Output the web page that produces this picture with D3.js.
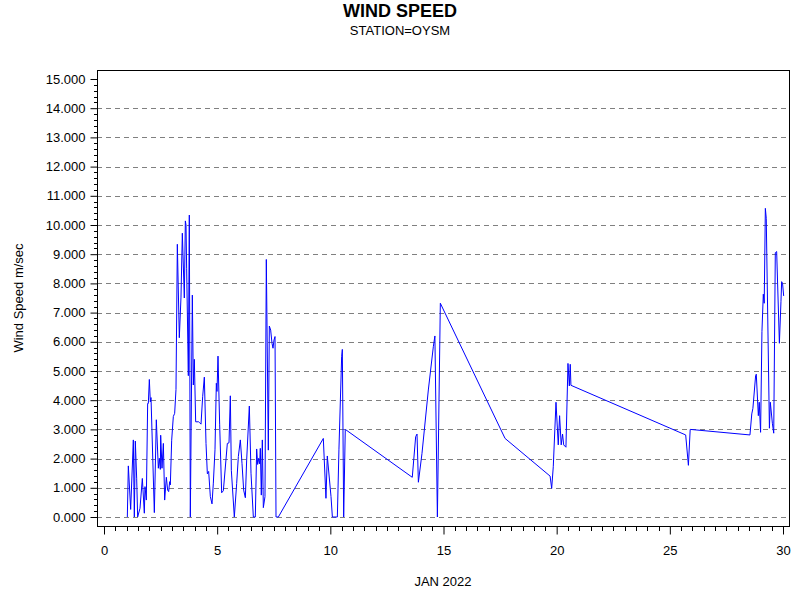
<!DOCTYPE html>
<html>
<head>
<meta charset="utf-8">
<script src="https://cdn.jsdelivr.net/npm/d3@7"></script>
<style>
  body { margin: 0; background: #fff; }
  svg { display: block; }
  text { font-family: "Liberation Sans", Arial, sans-serif; }
</style>
</head>
<body>
<svg id="chart" width="800" height="600"></svg>
<script>
// ---- data (day of JAN 2022, wind speed m/sec) ----
const dayValues = [
  1.031,1.075,1.178,1.296,1.340,1.384,1.443,1.487,1.591,1.694,1.782,1.811,1.870,1.929,1.959,2.003,2.047,2.077,
  2.224,2.312,2.401,2.445,2.489,2.504,2.563,2.622,2.680,2.754,2.813,2.857,2.901,2.931,2.990,3.063,3.122,3.181,
  3.240,3.328,3.402,3.461,3.549,3.594,3.623,3.652,3.726,3.770,3.814,3.903,3.947,3.991,4.050,4.183,4.227,4.286,
  4.359,4.433,4.507,4.566,4.624,4.698,4.772,4.831,4.904,4.963,4.993,5.037,5.110,5.199,5.273,5.449,5.523,5.582,
  5.626,5.758,5.862,5.936,6.024,6.097,6.171,6.245,6.303,6.421,6.495,6.598,6.686,6.745,6.789,6.834,6.878,6.907,
  6.951,6.996,7.040,7.113,7.172,7.261,7.305,7.364,7.423,7.467,7.511,7.556,7.600,7.703,9.690,9.807,9.866,10.03,
  10.09,10.31,10.38,10.50,10.53,10.59,10.66,13.62,13.77,13.83,13.89,14.05,14.33,14.55,14.62,14.73,14.86,17.72,
  19.71,19.78,19.85,19.97,20.07,20.13,20.20,20.26,20.31,20.41,20.50,20.56,20.60,20.63,25.70,25.82,25.90,28.54,
  28.62,28.67,28.79,28.82,28.91,28.95,29.01,29.07,29.13,29.17,29.22,29.26,29.40,29.44,29.53,29.59,29.66,29.72,
  29.84,29.91,29.94,29.98,30.03
];
const windSpeed = [
  0,1.75,0.26,2.64,0,2.60,1.33,0,0.30,1.32,0.13,1.04,0.58,3.89,3.89,4.71,3.94,4.09,
  0.15,3.33,1.67,2.01,1.63,2.80,1.67,2.52,0.58,1.36,0.92,0.87,1.21,1.10,2.63,3.44,3.55,4.37,
  9.34,6.14,7.53,9.72,7.50,10.14,10.00,8.50,4.84,10.34,0,7.60,4.52,5.40,3.26,3.26,3.23,3.18,
  4.12,4.79,2.52,1.48,1.56,0.70,0.45,1.16,2.30,4.58,4.30,5.51,3.18,0.83,0.90,2.52,2.54,4.15,
  1.60,0,1.15,2.07,2.64,1.84,0.92,0.66,1.95,3.80,1.50,0,0,2.33,1.80,2.01,1.82,2.35,
  0.75,2.64,0.32,0.70,8.82,2.29,6.54,6.40,5.95,5.78,6.06,6.18,0,0,2.69,0.64,2.09,0.70,
  0,0,2.30,5.49,5.74,0,3.00,1.36,2.75,2.84,1.19,2.18,4.35,5.83,6.20,0,7.32,2.69,
  1.40,0.98,1.72,3.93,2.47,3.47,2.47,2.84,2.47,2.39,5.26,4.49,5.23,4.51,2.81,1.77,3.00,2.81,
  3.53,3.72,4.84,4.89,3.47,3.93,2.90,6.35,7.63,7.32,10.57,10.23,3.04,3.93,3.21,2.87,9.05,9.09,
  5.95,7.37,8.06,8.00,7.57
];
const xTicks = [0, 5, 10, 15, 20, 25, 30];
const yTicks = [0,1,2,3,4,5,6,7,8,9,10,11,12,13,14,15];
const gridValues = [0,1,2,3,4,5,6,7,8,9,10,11,12,13,14];
const titleText = "WIND SPEED";
const subtitleText = "STATION=OYSM";
const xLabel = "JAN 2022";
const yLabel = "Wind Speed m/sec";

// ---- layout ----
const frame = { left: 97, right: 789, top: 70, bottom: 526 };
const x = d3.scaleLinear().domain([0, 30]).range([104, 783]);
const y = d3.scaleLinear().domain([0, 15]).range([517, 79]);

const svg = d3.select("#chart");

// titles
svg.append("text").attr("x", 400).attr("y", 17).attr("text-anchor", "middle")
  .attr("font-size", 18).attr("font-weight", "bold").text(titleText);
svg.append("text").attr("x", 400).attr("y", 35).attr("text-anchor", "middle")
  .attr("font-size", 13).text(subtitleText);

// gridlines
svg.append("g").selectAll("line").data(gridValues).join("line")
  .attr("x1", frame.left).attr("x2", frame.right)
  .attr("y1", d => Math.round(y(d)) + 0.5).attr("y2", d => Math.round(y(d)) + 0.5)
  .attr("stroke", "#808080").attr("stroke-width", 1).attr("stroke-dasharray", "5,4");

// data line
const line = d3.line().x((d, i) => x(dayValues[i])).y(d => y(d));
svg.append("path").datum(windSpeed)
  .attr("fill", "none").attr("stroke", "#0000ff").attr("stroke-width", 1)
  .attr("d", line);

// frame
svg.append("rect").attr("x", frame.left + 0.5).attr("y", frame.top + 0.5)
  .attr("width", frame.right - frame.left).attr("height", frame.bottom - frame.top)
  .attr("fill", "none").attr("stroke", "#000").attr("stroke-width", 1);

// y axis
const yAxis = d3.axisLeft(y).tickValues(yTicks).tickFormat(d3.format(".3f"))
  .tickSize(7).tickPadding(5).tickSizeOuter(0);
const gy = svg.append("g").attr("transform", `translate(${frame.left + 0.5},0)`).call(yAxis);
gy.select(".domain").remove();
gy.selectAll("text").attr("font-size", 13).attr("fill", "#000")
  .style("font-family", '"Liberation Sans", Arial, sans-serif');
gy.selectAll("line").attr("stroke", "#000");
// y minor ticks
const yMinor = d3.range(0, 15.0001, 0.2).filter(v => Math.abs(v - Math.round(v)) > 1e-6);
svg.append("g").selectAll("line").data(yMinor).join("line")
  .attr("x1", frame.left - 3).attr("x2", frame.left)
  .attr("y1", d => Math.round(y(d)) + 0.5).attr("y2", d => Math.round(y(d)) + 0.5)
  .attr("stroke", "#000");

// x axis
const xAxis = d3.axisBottom(x).tickValues(xTicks).tickFormat(d3.format("d"))
  .tickSize(8).tickPadding(11).tickSizeOuter(0);
const gx = svg.append("g").attr("transform", `translate(0,${frame.bottom + 0.5})`).call(xAxis);
gx.select(".domain").remove();
gx.selectAll("text").attr("font-size", 13).attr("fill", "#000")
  .style("font-family", '"Liberation Sans", Arial, sans-serif');
gx.selectAll("line").attr("stroke", "#000");
// x minor ticks
const xMinor = d3.range(0, 30.0001, 0.5).filter(v => v % 5 !== 0);
svg.append("g").selectAll("line").data(xMinor).join("line")
  .attr("x1", d => Math.round(x(d)) + 0.5).attr("x2", d => Math.round(x(d)) + 0.5)
  .attr("y1", frame.bottom).attr("y2", frame.bottom + 5)
  .attr("stroke", "#000");

// axis labels
svg.append("text").attr("x", (frame.left + frame.right) / 2).attr("y", 586)
  .attr("text-anchor", "middle").attr("font-size", 13).text(xLabel);
svg.append("text").attr("transform", `translate(23,${(frame.top + frame.bottom) / 2}) rotate(-90)`)
  .attr("text-anchor", "middle").attr("font-size", 13).text(yLabel);
</script>
</body>
</html>
